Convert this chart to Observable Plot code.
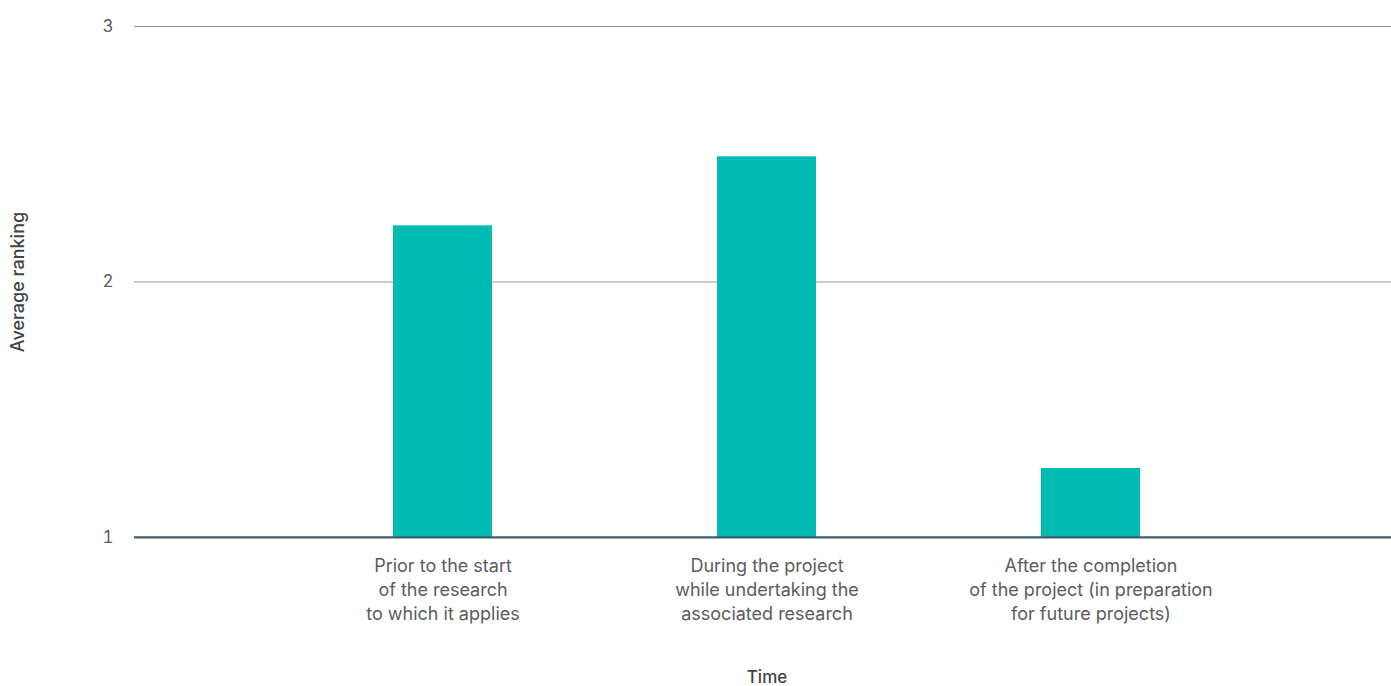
<!DOCTYPE html>
<html>
<head>
<meta charset="utf-8">
<script src="https://cdn.jsdelivr.net/npm/d3@7"></script>
<script src="https://cdn.jsdelivr.net/npm/@observablehq/plot@0.6"></script>
<style>
  html, body { margin: 0; padding: 0; background: #fff; }
  #chart svg { display: block; }
</style>
</head>
<body>
<div id="chart"></div>
<script>
// When the data sharing happens, and its average ranking
const categories = [
  "Prior to the start\nof the research\nto which it applies",
  "During the project\nwhile undertaking the\nassociated research",
  "After the completion\nof the project (in preparation\nfor future projects)"
];
const rankings = [2.22, 2.49, 1.27];
const yTicks = [1, 2, 3];
const gridValues = [2, 3];
const baseline = [1];
const yTitle = "Average ranking";
const xTitle = "Time";

const rows = categories.map((category, i) => ({ category, ranking: rankings[i] }));

const font = "Inter, 'Noto Sans', sans-serif";

const chart = Plot.plot({
  width: 1391,
  height: 686,
  marginLeft: 134,
  marginRight: 0,
  marginTop: 26,
  marginBottom: 149,
  style: { fontFamily: font, background: "#fff", color: "#5c5c5c" },
  x: { domain: categories, paddingInner: 0.695, paddingOuter: 0.784, align: 0.507, axis: null },
  y: { domain: [1, 3], axis: null },
  marks: [
    Plot.ruleY(gridValues, { stroke: "#9a9a9a", strokeWidth: 1 }),
    Plot.barY(rows, { x: "category", y1: 1, y2: "ranking", fill: "#00bbb4" }),
    Plot.ruleY(baseline, { stroke: "#3b6167", strokeWidth: 2.3, dy: -0.2 }),
    Plot.axisY(yTicks, {
      tickSize: 0, tickPadding: 21, fontSize: 17, tickFormat: "d", label: null, fill: "#5c5c5c"
    }),
    Plot.axisX({
      tickSize: 0, tickPadding: 17, fontSize: 18, lineHeight: 1.34, label: null, fill: "#5c5c5c"
    }),
    Plot.text([yTitle], {
      frameAnchor: "left", dx: -116, rotate: -90, textAnchor: "middle", lineAnchor: "middle",
      fontSize: 18, fontWeight: 500, fill: "#444"
    }),
    Plot.text([xTitle], {
      frameAnchor: "bottom", dx: 4, dy: 140, lineAnchor: "middle",
      fontSize: 17, fontWeight: 500, fill: "#444"
    })
  ]
});

document.getElementById("chart").append(chart);
</script>
</body>
</html>
